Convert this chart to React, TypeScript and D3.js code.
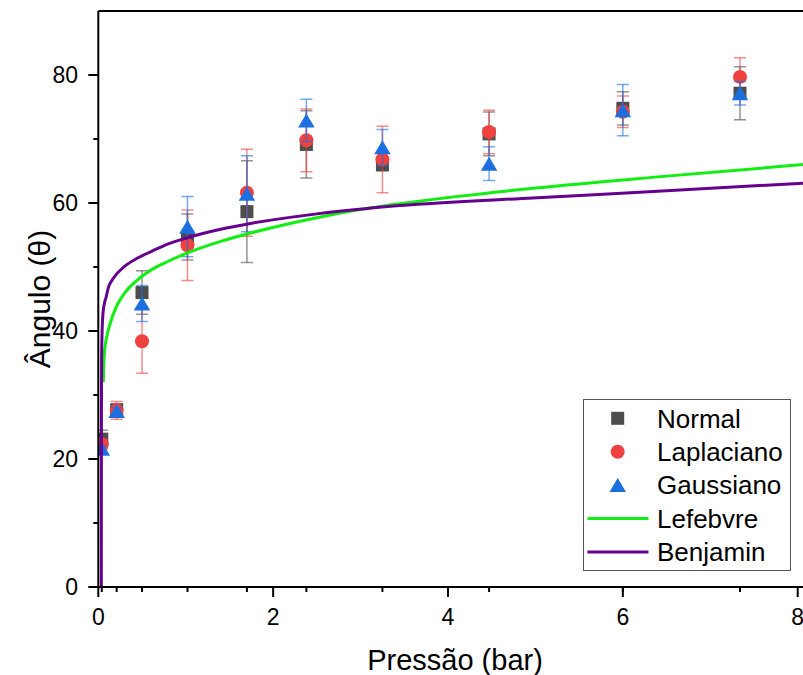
import React from "react";
import * as d3 from "d3";

// ---- data ----
const pressures = [0.04, 0.21, 0.5, 1.02, 1.7, 2.38, 3.25, 4.47, 6.0, 7.34];

const normalVals = [23.1, 27.7, 46.0, 54.7, 58.65, 69.15, 66.0, 70.8, 74.8, 77.15];
const normalErr = [1.4, 0.8, 3.4, 3.6, 7.95, 5.25, 1.0, 3.4, 2.6, 4.15];

const laplaceVals = [22.3, 27.6, 38.4, 53.4, 61.6, 69.8, 66.8, 71.1, 74.25, 79.7];
const laplaceErr = [0.8, 1.4, 5.0, 5.5, 6.8, 4.9, 5.2, 3.4, 2.45, 3.0];

const gaussVals = [21.6, 27.5, 44.3, 56.3, 61.45, 72.9, 68.7, 66.15, 74.5, 77.15];
const gaussErr = [0.5, 0.5, 2.8, 4.7, 5.95, 3.3, 2.8, 2.65, 4.0, 1.85];

// model curves
const lefebvreX = [0.058, 0.062, 0.073, 0.1, 0.13, 0.2, 0.3, 0.45, 0.65, 0.8, 1.02, 1.4, 1.74, 2.5, 2.88, 3.45, 4.97, 6.5, 8.06];
const lefebvreY = [32, 34.5, 37.0, 39.3, 40.9, 43.6, 45.9, 48.0, 49.9, 50.9, 52.2, 54.0, 55.3, 57.7, 58.7, 59.9, 62.3, 64.2, 66.0];

const benjaminX = [0.0345, 0.035, 0.036, 0.038, 0.045, 0.054, 0.07, 0.092, 0.111, 0.17, 0.3, 0.45, 0.65, 0.8, 1.0, 1.4, 1.74, 2.5, 3.45, 4.97, 6.5, 8.06];
const benjaminY = [0, 15, 28, 36, 40.5, 42.8, 44.3, 45.4, 46.6, 48.2, 50.1, 51.4, 52.7, 53.6, 54.5, 55.9, 56.8, 58.3, 59.6, 60.8, 61.9, 63.1];

const xMajorTicks = [0, 2, 4, 6, 8];
const yMajorTicks = [0, 20, 40, 60, 80];
const yMinorTicks = [10, 30, 50, 70];

const legendLabels = ["Normal", "Laplaciano", "Gaussiano", "Lefebvre", "Benjamin"];

const C_NORMAL = "#4d4d4d";
const C_LAPLACE = "#f04141";
const C_GAUSS = "#1b6fdf";
const C_LEF = "#11ee11";
const C_BEN = "#66008f";

const FONT = "'Liberation Sans', Arial, Helvetica, sans-serif";

export default function App() {
  const W = 803, H = 675;
  const left = 98.3, right = 803, top = 11, bottom = 587;
  const x = d3.scaleLinear().domain([0, 8]).range([left, 797.7]);
  const y = d3.scaleLinear().domain([0, 90]).range([bottom, top]);

  const line = d3
    .line<[number, number]>()
    .x((d) => x(d[0]))
    .y((d) => y(d[1]))
    .curve(d3.curveMonotoneX);

  const lefPts: [number, number][] = lefebvreX.map((v, i) => [v, lefebvreY[i]]);
  const benPts: [number, number][] = benjaminX.map((v, i) => [v, benjaminY[i]]);

  const series = [
    { vals: normalVals, err: normalErr, color: C_NORMAL, shape: "square" },
    { vals: laplaceVals, err: laplaceErr, color: C_LAPLACE, shape: "circle" },
    { vals: gaussVals, err: gaussErr, color: C_GAUSS, shape: "triangle" },
  ];

  const marker = (shape: string, cx: number, cy: number, color: string, key?: string) => {
    if (shape === "square")
      return <rect key={key} x={cx - 6.5} y={cy - 6.5} width={13} height={13} fill={color} />;
    if (shape === "circle") return <circle key={key} cx={cx} cy={cy} r={7} fill={color} />;
    const w = 16.5, h = 14;
    return (
      <path
        key={key}
        d={`M${cx},${cy - h / 2}L${cx + w / 2},${cy + h / 2}L${cx - w / 2},${cy + h / 2}Z`}
        fill={color}
      />
    );
  };

  const legendRowY = (i: number) => 418.3 + i * 33.4;

  return (
    <svg
      width={W}
      height={H}
      style={{ position: "absolute", left: 0, top: 0, background: "#fff" }}
      fontFamily={FONT}
    >
      <defs>
        <clipPath id="plotclip">
          <rect x={left} y={top} width={right - left} height={bottom - top} />
        </clipPath>
      </defs>
      <rect x={0} y={0} width={W} height={H} fill="#fff" />

      <g clipPath="url(#plotclip)">
        {series.map((s, si) => (
          <g key={si}>
            {pressures.map((p, i) => {
              const cx = x(p);
              const y1 = y(s.vals[i] + s.err[i]);
              const y2 = y(s.vals[i] - s.err[i]);
              return (
                <g key={i} stroke={s.color} strokeOpacity={0.6} strokeWidth={1.5}>
                  <line x1={cx} x2={cx} y1={y1} y2={y2} />
                  <line x1={cx - 6} x2={cx + 6} y1={y1} y2={y1} />
                  <line x1={cx - 6} x2={cx + 6} y1={y2} y2={y2} />
                </g>
              );
            })}
            {pressures.map((p, i) => marker(s.shape, x(p), y(s.vals[i]), s.color, `m${i}`))}
          </g>
        ))}
        <path d={line(lefPts) || ""} fill="none" stroke={C_LEF} strokeWidth={3} />
        <path d={line(benPts) || ""} fill="none" stroke={C_BEN} strokeWidth={3} />
      </g>

      {/* axes */}
      <line x1={left} x2={right} y1={top} y2={top} stroke="#000" strokeWidth={2} />
      <line x1={left} x2={left} y1={top} y2={bottom + 1} stroke="#000" strokeWidth={2} />
      <line x1={left - 1} x2={right} y1={bottom} y2={bottom} stroke="#000" strokeWidth={2} />

      {yMajorTicks.map((t) => (
        <g key={`ym${t}`}>
          <line x1={left - 10} x2={left} y1={y(t)} y2={y(t)} stroke="#000" strokeWidth={2} />
          <text x={78} y={y(t) + 8} textAnchor="end" fontSize={23} fill="#000">
            {t}
          </text>
        </g>
      ))}
      {yMinorTicks.map((t) => (
        <line key={`yn${t}`} x1={left - 5} x2={left} y1={y(t)} y2={y(t)} stroke="#000" strokeWidth={2} />
      ))}
      {xMajorTicks.map((t) => (
        <g key={`xm${t}`}>
          <line x1={x(t)} x2={x(t)} y1={bottom} y2={bottom + 10} stroke="#000" strokeWidth={2} />
          <text x={x(t)} y={625} textAnchor="middle" fontSize={23} fill="#000">
            {t}
          </text>
        </g>
      ))}
      {pressures.map((t) => (
        <line key={`xn${t}`} x1={x(t)} x2={x(t)} y1={bottom} y2={bottom + 5} stroke="#000" strokeWidth={2} />
      ))}

      <text x={455} y={670} textAnchor="middle" fontSize={29} fill="#000">
        Pressão (bar)
      </text>
      <text
        transform={`translate(50,${(top + bottom) / 2}) rotate(-90)`}
        textAnchor="middle"
        fontSize={30}
        fill="#000"
      >
        Ângulo (θ)
      </text>

      {/* legend */}
      <rect x={583.5} y={399.5} width={207} height={171} fill="#fff" stroke="#555" strokeWidth={1} />
      {legendLabels.map((lab, i) => {
        const ry = legendRowY(i);
        let sym: React.ReactNode;
        if (i < 3) sym = marker(series[i].shape, 617.7, ry, series[i].color);
        else
          sym = (
            <line x1={587.5} x2={648.5} y1={ry} y2={ry} stroke={i === 3 ? C_LEF : C_BEN} strokeWidth={3} />
          );
        return (
          <g key={lab}>
            {sym}
            <text x={657} y={ry + 9.3} fontSize={26} fill="#000">
              {lab}
            </text>
          </g>
        );
      })}
    </svg>
  );
}
